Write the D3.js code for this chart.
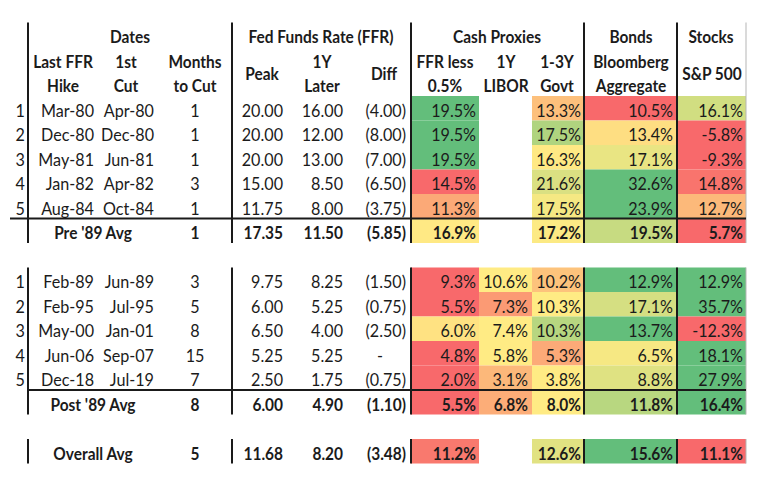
<!DOCTYPE html>
<html>
<head>
<meta charset="utf-8">
<script src="https://cdn.jsdelivr.net/npm/d3@7"></script>
<style>
  body { margin: 0; background: #fff; }
  svg text { font-family: Lato, 'Open Sans', sans-serif; fill: #1b1b1b; }
</style>
</head>
<body>
<div id="vis"></div>
<script>
const hikePre = ['Mar-80', 'Dec-80', 'May-81', 'Jan-82', 'Aug-84'];
const cutPre = ['Apr-80', 'Dec-80', 'Jun-81', 'Apr-82', 'Oct-84'];
const monthsPre = [1, 1, 1, 3, 1];
const peakPre = [20.00, 20.00, 20.00, 15.00, 11.75];
const laterPre = [16.00, 12.00, 13.00, 8.50, 8.00];
const diffPre = [-4.00, -8.00, -7.00, -6.50, -3.75];
const ffrPre = [19.5, 19.5, 19.5, 14.5, 11.3];
const liborPre = [null, null, null, null, null];
const govtPre = [13.3, 17.5, 16.3, 21.6, 17.5];
const bondsPre = [10.5, 13.4, 17.1, 32.6, 23.9];
const spPre = [16.1, -5.8, -9.3, 14.8, 12.7];

const hikePost = ['Feb-89', 'Feb-95', 'May-00', 'Jun-06', 'Dec-18'];
const cutPost = ['Jun-89', 'Jul-95', 'Jan-01', 'Sep-07', 'Jul-19'];
const monthsPost = [3, 5, 8, 15, 7];
const peakPost = [9.75, 6.00, 6.50, 5.25, 2.50];
const laterPost = [8.25, 5.25, 4.00, 5.25, 1.75];
const diffPost = [-1.50, -0.75, -2.50, 0, -0.75];
const ffrPost = [9.3, 5.5, 6.0, 4.8, 2.0];
const liborPost = [10.6, 7.3, 7.4, 5.8, 3.1];
const govtPost = [10.2, 10.3, 10.3, 5.3, 3.8];
const bondsPost = [12.9, 17.1, 13.7, 6.5, 8.8];
const spPost = [12.9, 35.7, -12.3, 18.1, 27.9];

const avgLabels = ["Pre '89 Avg", "Post '89 Avg", 'Overall Avg'];
const avgMonths = [1, 8, 5];
const avgPeak = [17.35, 6.00, 11.68];
const avgLater = [11.50, 4.90, 8.20];
const avgDiff = [-5.85, -1.10, -3.48];
const avgFfr = [16.9, 5.5, 11.2];
const avgLibor = [null, 6.8, null];
const avgGovt = [17.2, 8.0, 12.6];
const avgBonds = [19.5, 11.8, 15.6];
const avgSp = [5.7, 16.4, 11.1];

// the 5th pre-'89 row and the pre-'89 average were colour-scaled together
const scaleGroupPre = ['p0', 'p1', 'p2', 'p3', 'p4', 'p4'];

const W = 760, H = 477;
const FS = 17; // font size
const heatKeys = ['ffr', 'libor', 'govt', 'bonds', 'sp'];

let svg = d3.select('#vis').append('svg').attr('width', W).attr('height', H);

// slot index -> top of row
let yScale = d3.scaleLinear().domain([0, 1]).range([96, 120.5]);
const rowH = yScale(1) - yScale(0);

// cell spans of the coloured columns
let cellX = d3.scaleOrdinal().domain(heatKeys)
		.range([[411, 479], [479, 532], [532, 584], [584, 677], [677, 746]]);
// right-aligned text anchors of the coloured columns
let cellTextX = d3.scaleOrdinal().domain(heatKeys).range([476, 528, 581, 673, 743]);

// Build one row list from the arrays
let rows = [];
hikePre.forEach((d, i) => rows.push({
	num: i + 1, hike: d, cut: cutPre[i], months: monthsPre[i], peak: peakPre[i], later: laterPre[i],
	diff: diffPre[i], ffr: ffrPre[i], libor: liborPre[i], govt: govtPre[i], bonds: bondsPre[i], sp: spPre[i],
	slot: i, bold: false, group: scaleGroupPre[i]
}));
hikePost.forEach((d, i) => rows.push({
	num: i + 1, hike: d, cut: cutPost[i], months: monthsPost[i], peak: peakPost[i], later: laterPost[i],
	diff: diffPost[i], ffr: ffrPost[i], libor: liborPost[i], govt: govtPost[i], bonds: bondsPost[i], sp: spPost[i],
	slot: 7 + i, bold: false, group: 'q' + i
}));
const avgSlots = [5, 12, 14];
const avgGroups = [scaleGroupPre[5], 'qa', 'oa'];
avgLabels.forEach((d, i) => rows.push({
	label: d, months: avgMonths[i], peak: avgPeak[i], later: avgLater[i], diff: avgDiff[i],
	ffr: avgFfr[i], libor: avgLibor[i], govt: avgGovt[i], bonds: avgBonds[i], sp: avgSp[i],
	slot: avgSlots[i], bold: true, group: avgGroups[i]
}));

// Excel-style 3-colour scale (min / median / max) for each group of rows
let colorScales = {};
d3.group(rows, r => r.group).forEach((grp, key) => {
	let vals = [];
	grp.forEach(r => heatKeys.forEach(k => { if (r[k] !== null) vals.push(r[k]); }));
	colorScales[key] = d3.scaleLinear()
			.domain([d3.min(vals), d3.median(vals), d3.max(vals)])
			.range(['#F8696B', '#FFEB84', '#63BE7B']);
});

// Coloured cells
let cells = [];
rows.forEach(r => heatKeys.forEach(k => { if (r[k] !== null) cells.push({ r: r, k: k, v: r[k] }); }));

svg.append('g').selectAll('rect').data(cells).enter().append('rect')
		.attr('x', d => cellX(d.k)[0])
		.attr('y', d => yScale(d.r.slot))
		.attr('width', d => cellX(d.k)[1] - cellX(d.k)[0])
		.attr('height', rowH)
		.attr('fill', d => colorScales[d.r.group](d.v));

let baseY = slot => yScale(slot + 1) - 3.8;
let fmt2 = d3.format('.2f');
let fmtDiff = v => v < 0 ? '(' + fmt2(-v) + ')' : fmt2(v);
let fmtPct = v => d3.format('.1f')(v).replace('−', '-') + '%';

let body = svg.append('g').attr('font-size', FS);

/**
 * Adds a text squeezed a little sideways (Lato runs wider than the original font).
 */
function addText(g, x, y, txt, anchor, bold) {
	let sx = bold ? 0.91 : 0.95;
	return g.append('text')
			.attr('transform', `translate(${x}, ${y}) scale(${sx}, 1)`)
			.attr('text-anchor', anchor)
			.attr('font-weight', bold ? 700 : 400).text(txt);
}

rows.forEach(r => {
	let y = baseY(r.slot);
	if (r.label) {
		addText(body, 93, y, r.label, 'middle', true);
	} else {
		addText(body, 25, y, r.num, 'end', false);
		addText(body, 94, y, r.hike, 'end', false);
		addText(body, 154, y, r.cut, 'end', false);
	}
	addText(body, 195, y, r.months, 'middle', r.bold);
	addText(body, 283, y, fmt2(r.peak), 'end', r.bold);
	addText(body, 343, y, fmt2(r.later), 'end', r.bold);
	if (r.diff === 0) addText(body, 380, y, '-', 'middle', r.bold);
	else addText(body, 406, y, fmtDiff(r.diff), 'end', r.bold);
	heatKeys.forEach(k => {
		if (r[k] !== null) addText(body, cellTextX(k), y, fmtPct(r[k]), 'end', r.bold);
	});
});

// Header block
let head = svg.append('g').attr('font-size', FS).attr('font-weight', 700);
const headTop = [
	['Dates', 130], ['Fed Funds Rate (FFR)', 321], ['Cash Proxies', 497], ['Bonds', 631], ['Stocks', 711]
];
const headTwo = [
	['Last FFR', 'Hike', 63], ['1st', 'Cut', 126], ['Months', 'to Cut', 195], ['1Y', 'Later', 322],
	['FFR less', '0.5%', 445], ['1Y', 'LIBOR', 506], ['1-3Y', 'Govt', 557], ['Bloomberg', 'Aggregate', 631]
];
const headMid = [['Peak', 262], ['Diff', 384], ['S&P 500', 712]];

headTop.forEach(h => addText(head, h[1], baseY(-3), h[0], 'middle', true));
headTwo.forEach(h => {
	addText(head, h[2], baseY(-2), h[0], 'middle', true);
	addText(head, h[2], baseY(-1), h[1], 'middle', true);
});
headMid.forEach(h => addText(head, h[1], baseY(-2) + rowH / 2, h[0], 'middle', true));

// Rules
let lines = svg.append('g').attr('stroke', '#1a1a1a').attr('stroke-width', 2);
const vx = [28, 232, 411, 584, 677];
const vSpans = [[yScale(-3), yScale(6)], [yScale(7), yScale(13)], [yScale(14), yScale(15)]];
vSpans.forEach(s => {
	vx.forEach(x => lines.append('line').attr('x1', x).attr('x2', x).attr('y1', s[0]).attr('y2', s[1]));
	lines.append('line').attr('x1', 746).attr('x2', 746).attr('y1', s[0]).attr('y2', s[1])
			.attr('stroke', '#b5b5b5').attr('stroke-width', 1);
});
lines.append('line').attr('x1', 10).attr('x2', 746).attr('y1', yScale(5)).attr('y2', yScale(5));
lines.append('line').attr('x1', 28).attr('x2', 746).attr('y1', yScale(12)).attr('y2', yScale(12));
</script>
</body>
</html>
